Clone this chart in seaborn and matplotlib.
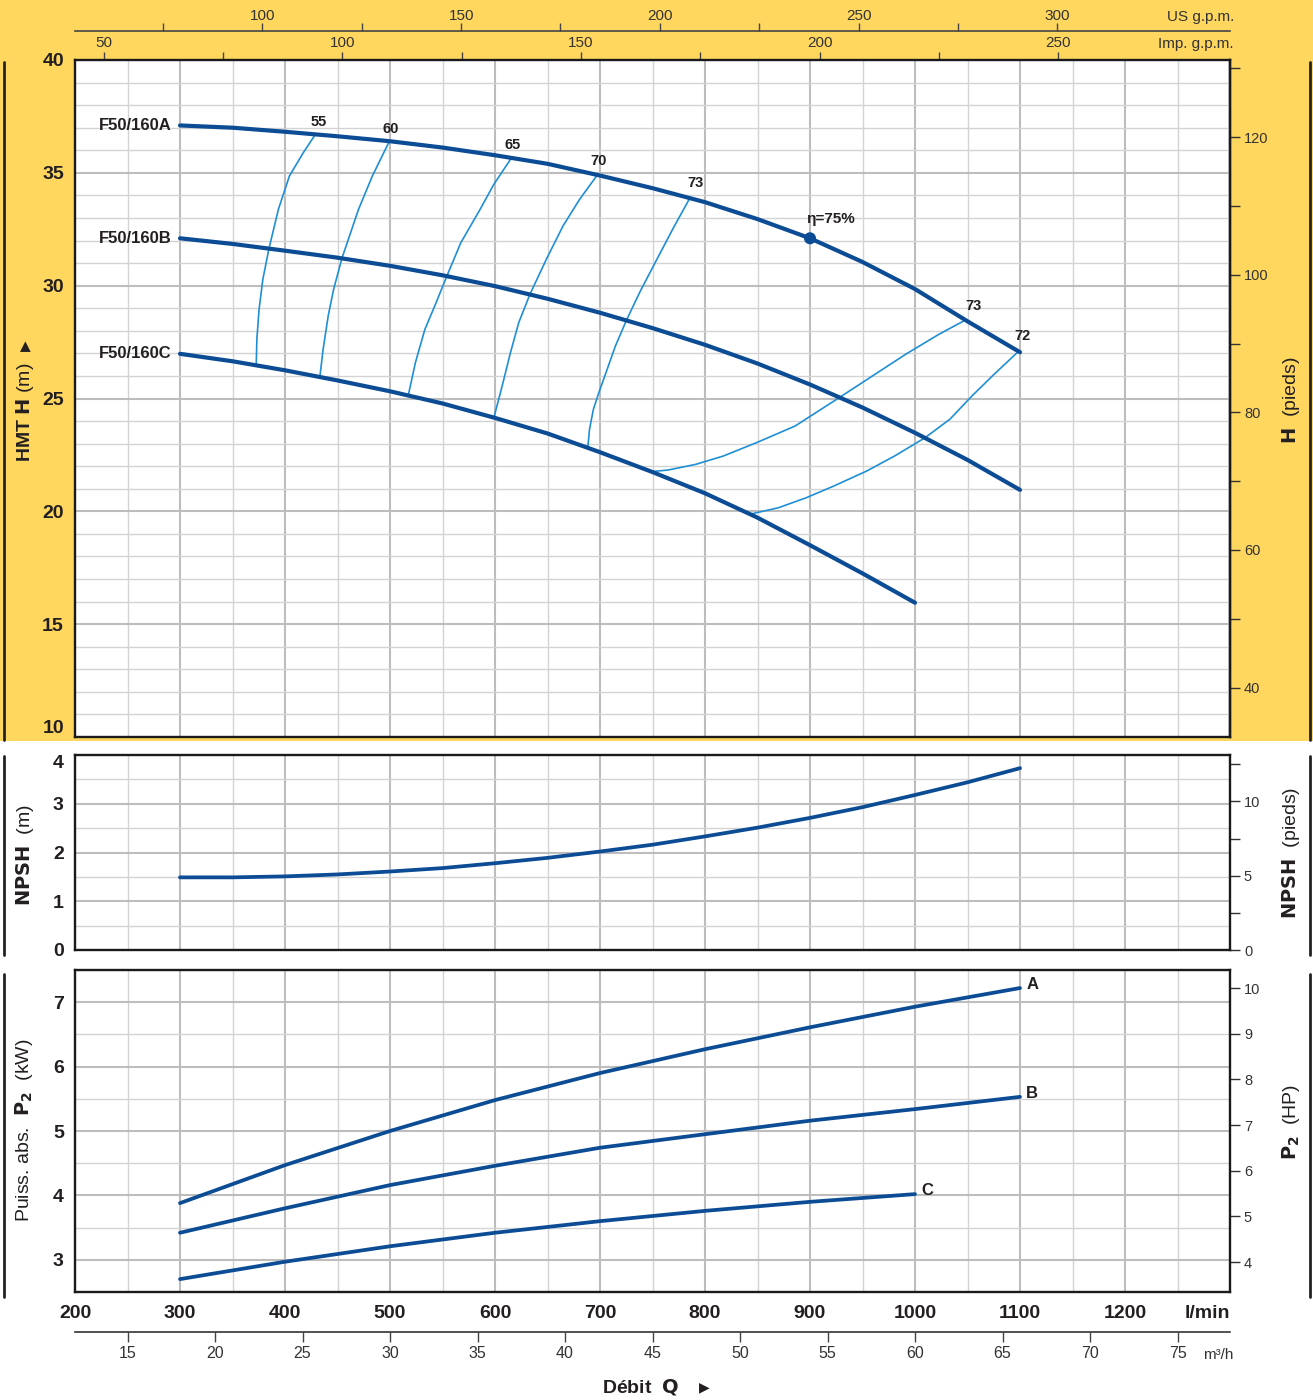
import matplotlib
matplotlib.use("Agg")
import matplotlib.pyplot as plt
import seaborn as sns
from matplotlib import font_manager
from matplotlib.lines import Line2D
from matplotlib.patches import Rectangle
from matplotlib.ticker import MultipleLocator, FixedLocator

# ---------------- data (Q in l/min) ----------------
q_ab = [300, 350, 400, 450, 500, 550, 600, 650, 700, 750, 800, 850, 900, 950, 1000, 1050, 1100]
h_a = [37.10, 37.00, 36.82, 36.62, 36.40, 36.12, 35.78, 35.40, 34.88, 34.32, 33.70, 32.95, 32.10, 31.05, 29.85, 28.42, 27.05]
h_b = [32.10, 31.85, 31.55, 31.24, 30.88, 30.46, 29.98, 29.42, 28.80, 28.12, 27.38, 26.55, 25.62, 24.60, 23.48, 22.28, 20.95]
q_c = [300, 350, 400, 450, 500, 550, 600, 650, 700, 750, 800, 850, 900, 950, 1000]
h_c = [26.98, 26.65, 26.25, 25.80, 25.32, 24.78, 24.14, 23.45, 22.62, 21.74, 20.80, 19.72, 18.50, 17.25, 15.95]
curve_names = ["F50/160A", "F50/160B", "F50/160C"]

# iso-efficiency lines (Q, H)
eff_labels = ["55", "60", "65", "70", "73", "73", "72"]
eff_q = [
    [428.9, 417.4, 404.2, 393.7, 384.7, 378.9, 375.3, 373.2, 372.6],
    [499.5, 483.2, 470.0, 454.2, 446.3, 441.1, 436.3, 433.2],
    [615.8, 598.9, 585.8, 567.4, 554.2, 542.6, 533.2, 524.2, 517.4],
    [697.4, 680.5, 664.7, 648.9, 633.2, 622.6, 614.7, 606.8, 598.9],
    [785.8, 770.0, 754.2, 738.4, 725.3, 714.7, 706.8, 698.9, 693.7, 690.0, 688.4],
    [749.0, 764.7, 791.1, 817.4, 848.9, 885.8, 927.9, 959.5, 991.1, 1022.6, 1047.4],
    [842.6, 870.0, 896.3, 922.6, 954.2, 980.5, 1009.5, 1033.2, 1054.2, 1075.3, 1097.9],
]
eff_h = [
    [36.70, 35.89, 34.86, 33.38, 31.64, 30.28, 28.95, 27.62, 26.47],
    [36.41, 34.86, 33.38, 31.21, 29.84, 28.65, 27.18, 25.95],
    [35.67, 34.49, 33.38, 31.90, 30.43, 29.10, 28.06, 26.59, 25.14],
    [34.90, 33.82, 32.64, 31.17, 29.61, 28.36, 27.03, 25.55, 24.15],
    [33.90, 32.57, 31.17, 29.76, 28.48, 27.33, 26.29, 25.26, 24.52, 23.63, 22.82],
    [21.76, 21.83, 22.08, 22.45, 23.04, 23.78, 25.04, 26.00, 26.96, 27.84, 28.46],
    [19.87, 20.16, 20.60, 21.12, 21.79, 22.45, 23.26, 24.08, 25.11, 26.07, 27.06],
]
eff_label_q = [432, 501, 617, 699, 791, 1056, 1102]
eff_label_h = [37.25, 36.96, 36.23, 35.52, 34.53, 29.10, 27.77]
bep_q, bep_h = 900, 32.1

q_npsh = [300, 350, 400, 450, 500, 550, 600, 650, 700, 750, 800, 850, 900, 950, 1000, 1050, 1100]
npsh = [1.49, 1.49, 1.51, 1.55, 1.61, 1.68, 1.78, 1.89, 2.02, 2.16, 2.33, 2.51, 2.71, 2.93, 3.18, 3.44, 3.73]

q_p = [300, 400, 500, 600, 700, 800, 900, 1000, 1100]
p_a = [3.88, 4.47, 5.00, 5.48, 5.90, 6.27, 6.61, 6.93, 7.22]
p_b = [3.42, 3.80, 4.16, 4.46, 4.74, 4.95, 5.16, 5.34, 5.53]
q_pc = [300, 400, 500, 600, 700, 800, 900, 1000]
p_c = [2.70, 2.97, 3.21, 3.42, 3.60, 3.76, 3.90, 4.02]
power_names = ["A", "B", "C"]

q_ticks = [200, 300, 400, 500, 600, 700, 800, 900, 1000, 1100, 1200, 1300]
m3h_ticks = [15, 20, 25, 30, 35, 40, 45, 50, 55, 60, 65, 70, 75]
us_ticks = [100, 150, 200, 250, 300]
us_minor = [75, 125, 175, 225, 275]
imp_ticks = [50, 100, 150, 200, 250]
imp_minor = [75, 125, 175, 225]
ft_ticks = [40, 60, 80, 100, 120]
ft_minor = [50, 70, 90, 110, 130]
npsh_ft_ticks = [0, 5, 10]
npsh_ft_minor = [2.5, 7.5, 12.5]
hp_ticks = [4, 5, 6, 7, 8, 9, 10]

# ---------------- style ----------------
YELLOW = "#FFD65E"
DARK = "#0B4C94"
LIGHT = "#1E8FD5"
INK = "#231F20"

sns.set_theme(style="white")
names = {f.name for f in font_manager.fontManager.ttflist}
NARROW = "Liberation Sans Narrow" if "Liberation Sans Narrow" in names else "Liberation Sans"
plt.rcParams["font.family"] = [NARROW, "Liberation Sans", "DejaVu Sans"]
plt.rcParams["mathtext.fontset"] = "custom"
plt.rcParams["mathtext.bf"] = "DejaVu Sans:bold"
plt.rcParams["mathtext.sf"] = NARROW + ":bold"
plt.rcParams["mathtext.rm"] = NARROW

W, H = 1313, 1400
fig = plt.figure(figsize=(13.13, 14), dpi=100, facecolor="white")


def fx(px):
    return px / W


def fy(py):
    return 1 - py / H


def box(top, bottom):
    return [fx(75), fy(bottom), fx(1230) - fx(75), fy(top) - fy(bottom)]


fig.add_artist(Rectangle((0, fy(741)), 1, 741 / H, transform=fig.transFigure,
                         facecolor=YELLOW, edgecolor="none", zorder=-10))
for x in (4, 1310):
    fig.add_artist(Line2D([fx(x)] * 2, [fy(62), fy(740)], color="#222", lw=2))
    fig.add_artist(Line2D([fx(x)] * 2, [fy(756), fy(955)], color="#222", lw=2))
    fig.add_artist(Line2D([fx(x)] * 2, [fy(974), fy(1297)], color="#222", lw=2))

ax = fig.add_axes(box(60, 737))
axn = fig.add_axes(box(755, 950))
axp = fig.add_axes(box(970, 1292))


def style_panel(a, ymaj, ymin, lo, hi):
    a.set_facecolor("white")
    a.set_xlim(200, 1300)
    a.set_ylim(lo, hi)
    a.xaxis.set_major_locator(MultipleLocator(100))
    a.xaxis.set_minor_locator(MultipleLocator(50))
    a.yaxis.set_major_locator(MultipleLocator(ymaj))
    a.yaxis.set_minor_locator(MultipleLocator(ymin))
    a.grid(which="major", color="#BDBDBD", lw=1.5)
    a.grid(which="minor", color="#D3D3D3", lw=1.0)
    a.set_axisbelow(True)
    for s in a.spines.values():
        s.set_visible(True)
        s.set_color("#1A1A1A")
        s.set_linewidth(1.7)
    a.tick_params(which="both", length=0, labelsize=14, labelcolor=INK, pad=8)
    a.tick_params(axis="x", labelbottom=False)
    a.set_xlabel("")
    a.set_ylabel("")


style_panel(ax, 5, 1, 10, 40)
style_panel(axn, 1, 0.5, 0, 4)
style_panel(axp, 1, 0.5, 2.5, 7.5)

# ---------------- head curves ----------------
for qs, hs in zip(eff_q, eff_h):
    sns.lineplot(x=qs, y=hs, ax=ax, color=LIGHT, lw=1.2, sort=False, estimator=None, zorder=3)
for qs, hs in [(q_ab, h_a), (q_ab, h_b), (q_c, h_c)]:
    sns.lineplot(x=qs, y=hs, ax=ax, color=DARK, lw=3.0, sort=False, estimator=None, zorder=4)
sns.scatterplot(x=[bep_q], y=[bep_h], ax=ax, color=DARK, s=75, edgecolor="none", zorder=5)

for name, hs in zip(curve_names, [h_a, h_b, h_c]):
    ax.text(292, hs[0], name, ha="right", va="center", fontsize=12, fontweight="bold", color=INK)
for lab, qx, hy in zip(eff_labels, eff_label_q, eff_label_h):
    ax.text(qx, hy, lab, ha="center", va="center", fontsize=10.5, fontweight="bold", color=INK)
ax.text(bep_q - 4, bep_h + 0.85, "η=75%", ha="left", va="center", fontsize=11, fontweight="bold", color=INK)

ax.set_yticks([10, 15, 20, 25, 30, 35, 40])
ax.set_yticklabels([str(v) for v in [10, 15, 20, 25, 30, 35, 40]], fontweight="bold")
ax.get_yticklabels()[0].set_va("bottom")

# right axis in feet
sec = ax.secondary_yaxis("right", functions=(lambda m: m / 0.3048, lambda f: f * 0.3048))
sec.set_yticks(ft_ticks)
sec.yaxis.set_minor_locator(FixedLocator(ft_minor))
sec.tick_params(which="both", direction="out", length=7, width=1, color="#333",
                labelsize=10.5, labelcolor="#333", pad=3)
sec.spines["right"].set_color("#1A1A1A")
sec.spines["right"].set_linewidth(1.7)

# top axes: imperial and US gpm
imp = ax.secondary_xaxis("top", functions=(lambda l: l / 4.546, lambda g: g * 4.546))
imp.set_xticks(imp_ticks)
imp.xaxis.set_minor_locator(FixedLocator(imp_minor))
imp.tick_params(which="both", direction="out", length=6, width=1, color="#444",
                labelsize=11, labelcolor="#333", pad=1)
us = ax.secondary_xaxis(1 + 29 / 677, functions=(lambda l: l / 3.785, lambda g: g * 3.785))
us.set_xticks(us_ticks)
us.xaxis.set_minor_locator(FixedLocator(us_minor))
us.tick_params(which="both", direction="out", length=6, width=1, color="#444",
               labelsize=11, labelcolor="#333", pad=0)
for s in us.spines.values():
    s.set_color("#444")
    s.set_linewidth(1.2)
fig.text(fx(1234), fy(17), "US g.p.m.", ha="right", va="center", fontsize=11, color="#333")
fig.text(fx(1234), fy(44), "Imp. g.p.m.", ha="right", va="center", fontsize=11, color="#333")

# ---------------- NPSH ----------------
sns.lineplot(x=q_npsh, y=npsh, ax=axn, color=DARK, lw=2.7, sort=False, estimator=None, zorder=4)
axn.set_yticks([0, 1, 2, 3, 4])
axn.set_yticklabels(["0", "1", "2", "3", "4"], fontweight="bold")
axn.get_yticklabels()[-1].set_va("top")
secn = axn.secondary_yaxis("right", functions=(lambda m: m / 0.3048, lambda f: f * 0.3048))
secn.set_yticks(npsh_ft_ticks)
secn.yaxis.set_minor_locator(FixedLocator(npsh_ft_minor))
secn.tick_params(which="both", direction="out", length=7, width=1, color="#333",
                 labelsize=10.5, labelcolor="#333", pad=3)

# ---------------- power ----------------
for qs, ps in [(q_p, p_a), (q_p, p_b), (q_pc, p_c)]:
    sns.lineplot(x=qs, y=ps, ax=axp, color=DARK, lw=2.7, sort=False, estimator=None, zorder=4)
for name, qs, ps in zip(power_names, [q_p, q_p, q_pc], [p_a, p_b, p_c]):
    axp.text(qs[-1] + 6, ps[-1] + 0.06, name, ha="left", va="center", fontsize=12,
             fontweight="bold", color=INK)
axp.set_yticks([3, 4, 5, 6, 7])
axp.set_yticklabels(["3", "4", "5", "6", "7"], fontweight="bold")

HP_KW, HP4_KW = 0.7091, 2.9658
secp = axp.secondary_yaxis("right", functions=(lambda k: 4 + (k - HP4_KW) / HP_KW,
                                               lambda h: HP4_KW + (h - 4) * HP_KW))
secp.set_yticks(hp_ticks)
secp.tick_params(which="both", direction="out", length=7, width=1, color="#333",
                 labelsize=10.5, labelcolor="#333", pad=3)

axp.set_xticks(q_ticks)
axp.set_xticklabels([str(v) for v in q_ticks[:-1]] + ["l/min"], fontweight="bold")
axp.tick_params(axis="x", labelbottom=True, labelsize=14, pad=9)
axp.get_xticklabels()[-1].set_ha("right")

m3 = axp.secondary_xaxis(-40 / 322, functions=(lambda l: l * 0.06, lambda m: m / 0.06))
m3.set_xticks(m3h_ticks)
m3.tick_params(which="both", direction="out", length=7, width=1, color="#444",
               labelsize=11.5, labelcolor="#333", pad=3)
for s in m3.spines.values():
    s.set_color("#333")
    s.set_linewidth(1.2)
fig.text(fx(1233), fy(1355), "m³/h", ha="right", va="center", fontsize=11, color="#333")

# ---------------- axis titles ----------------
fig.text(fx(25), fy(412), r"$\mathsf{HMT}$ $\mathbf{H}$ (m)", rotation=90,
         ha="center", va="center", fontsize=14, color=INK)
fig.text(fx(25), fy(346), "▶", rotation=90, ha="center", va="center",
         fontsize=10, color=INK, family="DejaVu Sans")
fig.text(fx(25), fy(855), r"$\mathbf{NPSH}$  (m)", rotation=90,
         ha="center", va="center", fontsize=14, color=INK)
fig.text(fx(24), fy(1130), r"Puiss. abs.  $\mathbf{P}_{\mathbf{2}}$  (kW)", rotation=90,
         ha="center", va="center", fontsize=14, color=INK)
fig.text(fx(1291), fy(400), r"$\mathbf{H}$  (pieds)", rotation=90,
         ha="center", va="center", fontsize=14, color=INK)
fig.text(fx(1291), fy(853), r"$\mathbf{NPSH}$  (pieds)", rotation=90,
         ha="center", va="center", fontsize=14, color=INK)
fig.text(fx(1291), fy(1122), r"$\mathbf{P}_{\mathbf{2}}$  (HP)", rotation=90,
         ha="center", va="center", fontsize=14, color=INK)
fig.text(fx(641), fy(1387), r"$\mathsf{Débit}$  $\mathbf{Q}$", ha="center", va="center",
         fontsize=14, color=INK)
fig.text(fx(704), fy(1387), "▶", ha="center", va="center",
         fontsize=10, color=INK, family="DejaVu Sans")

fig.savefig("out.png", dpi=100, facecolor="white")
